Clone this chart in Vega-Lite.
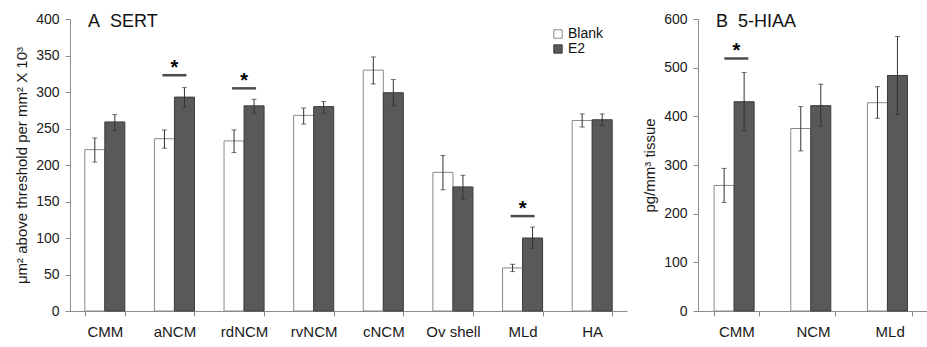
{
  "$schema": "https://vega.github.io/schema/vega-lite/v6.json",
  "padding": {"left": 14, "top": 12, "right": 0, "bottom": 0},
  "background": "#ffffff",
  "datasets": {
    "sert": [
      {"region": "CMM", "group": "Blank", "value": 221, "lo": 204, "hi": 237},
      {"region": "CMM", "group": "E2", "value": 259, "lo": 247, "hi": 269},
      {"region": "aNCM", "group": "Blank", "value": 236, "lo": 223, "hi": 248},
      {"region": "aNCM", "group": "E2", "value": 293, "lo": 279, "hi": 306},
      {"region": "rdNCM", "group": "Blank", "value": 233, "lo": 217, "hi": 248},
      {"region": "rdNCM", "group": "E2", "value": 281, "lo": 271, "hi": 290},
      {"region": "rvNCM", "group": "Blank", "value": 268, "lo": 256, "hi": 278},
      {"region": "rvNCM", "group": "E2", "value": 280, "lo": 271, "hi": 287},
      {"region": "cNCM", "group": "Blank", "value": 330, "lo": 311, "hi": 348},
      {"region": "cNCM", "group": "E2", "value": 299, "lo": 281, "hi": 317},
      {"region": "Ov shell", "group": "Blank", "value": 190, "lo": 166, "hi": 213},
      {"region": "Ov shell", "group": "E2", "value": 170, "lo": 153, "hi": 186},
      {"region": "MLd", "group": "Blank", "value": 59, "lo": 54, "hi": 64},
      {"region": "MLd", "group": "E2", "value": 100, "lo": 86, "hi": 115},
      {"region": "HA", "group": "Blank", "value": 261, "lo": 252, "hi": 270},
      {"region": "HA", "group": "E2", "value": 262, "lo": 254, "hi": 270}
    ],
    "sertsig": [
      {"region": "aNCM", "line": 323, "star": "*"},
      {"region": "rdNCM", "line": 305, "star": "*"},
      {"region": "MLd", "line": 130, "star": "*"}
    ],
    "hiaa": [
      {"region": "CMM", "group": "Blank", "value": 258, "lo": 223, "hi": 293},
      {"region": "CMM", "group": "E2", "value": 430, "lo": 370, "hi": 490},
      {"region": "NCM", "group": "Blank", "value": 375, "lo": 329, "hi": 420},
      {"region": "NCM", "group": "E2", "value": 422, "lo": 380, "hi": 466},
      {"region": "MLd", "group": "Blank", "value": 428, "lo": 396, "hi": 461},
      {"region": "MLd", "group": "E2", "value": 484, "lo": 404, "hi": 564}
    ],
    "hiaasig": [
      {"region": "CMM", "line": 519, "star": "*"}
    ]
  },
  "hconcat": [
    {
      "width": 557,
      "height": 292,
      "title": {"text": "A\u00a0\u00a0SERT", "anchor": "start", "frame": "group", "fontSize": 18, "fontWeight": "normal", "font": "Liberation Sans", "color": "#111111", "offset": -19, "dx": 18},
      "layer": [
        {
          "data": {"name": "sert"},
          "mark": {"type": "bar", "strokeWidth": 1},
          "encoding": {
            "x": {"field": "region", "type": "nominal", "scale": {"domain": ["CMM", "aNCM", "rdNCM", "rvNCM", "cNCM", "Ov shell", "MLd", "HA"], "paddingInner": 0.425, "paddingOuter": 0.2125}, "axis": {"title": null, "labelAngle": 0, "tickBand": "extent", "tickSize": 5, "labelPadding": 8, "labelFontSize": 15}},
            "xOffset": {"field": "group", "type": "nominal", "scale": {"domain": ["Blank", "E2"], "paddingInner": 0, "paddingOuter": 0}},
            "y": {"field": "value", "type": "quantitative", "scale": {"domain": [0, 400]}, "axis": {"title": "μm² above threshold per mm² X 10³", "values": [0, 50, 100, 150, 200, 250, 300, 350, 400], "labelOverlap": false}},
            "fill": {"field": "group", "type": "nominal", "scale": {"domain": ["Blank", "E2"], "range": ["#ffffff", "#595959"]}, "legend": {"title": null, "orient": "none", "legendX": 481, "legendY": 8, "symbolType": "square", "symbolSize": 70, "symbolStrokeColor": "#555555", "symbolStrokeWidth": 1, "labelFontSize": 14, "labelColor": "#111111", "rowPadding": 1, "labelOffset": 3, "padding": 0}},
            "stroke": {"field": "group", "type": "nominal", "scale": {"domain": ["Blank", "E2"], "range": ["#8a8a8a", "#3c3c3c"]}, "legend": null}
          }
        },
        {
          "data": {"name": "sert"},
          "mark": {"type": "rule", "color": "#333333", "strokeWidth": 1},
          "encoding": {
            "x": {"field": "region", "type": "nominal"},
            "xOffset": {"field": "group", "type": "nominal"},
            "y": {"field": "lo", "type": "quantitative", "axis": {"title": "μm² above threshold per mm² X 10³", "values": [0, 50, 100, 150, 200, 250, 300, 350, 400], "labelOverlap": false}},
            "y2": {"field": "hi"}
          }
        },
        {
          "data": {"name": "sert"},
          "mark": {"type": "tick", "color": "#333333", "size": 5, "thickness": 1},
          "encoding": {
            "x": {"field": "region", "type": "nominal"},
            "xOffset": {"field": "group", "type": "nominal"},
            "y": {"field": "lo", "type": "quantitative", "axis": {"title": "μm² above threshold per mm² X 10³", "values": [0, 50, 100, 150, 200, 250, 300, 350, 400], "labelOverlap": false}}
          }
        },
        {
          "data": {"name": "sert"},
          "mark": {"type": "tick", "color": "#333333", "size": 5, "thickness": 1},
          "encoding": {
            "x": {"field": "region", "type": "nominal"},
            "xOffset": {"field": "group", "type": "nominal"},
            "y": {"field": "hi", "type": "quantitative", "axis": {"title": "μm² above threshold per mm² X 10³", "values": [0, 50, 100, 150, 200, 250, 300, 350, 400], "labelOverlap": false}}
          }
        },
        {
          "data": {"name": "sertsig"},
          "mark": {"type": "tick", "color": "#000000", "size": 24, "thickness": 2.5},
          "encoding": {
            "x": {"field": "region", "type": "nominal"},
            "y": {"field": "line", "type": "quantitative", "axis": {"title": "μm² above threshold per mm² X 10³", "values": [0, 50, 100, 150, 200, 250, 300, 350, 400], "labelOverlap": false}}
          }
        },
        {
          "data": {"name": "sertsig"},
          "mark": {"type": "text", "fontSize": 20, "fontWeight": "bold", "baseline": "alphabetic", "dy": -1, "color": "#000000"},
          "encoding": {
            "x": {"field": "region", "type": "nominal"},
            "y": {"field": "line", "type": "quantitative", "axis": {"title": "μm² above threshold per mm² X 10³", "values": [0, 50, 100, 150, 200, 250, 300, 350, 400], "labelOverlap": false}},
            "text": {"field": "star"}
          }
        }
      ]
    },
    {
      "width": 230,
      "height": 292,
      "title": {"text": "B\u00a0\u00a05-HIAA", "anchor": "start", "frame": "group", "fontSize": 18, "fontWeight": "normal", "font": "Liberation Sans", "color": "#111111", "offset": -19, "dx": 18},
      "layer": [
        {
          "data": {"name": "hiaa"},
          "mark": {"type": "bar", "strokeWidth": 1},
          "encoding": {
            "x": {"field": "region", "type": "nominal", "scale": {"domain": ["CMM", "NCM", "MLd"], "paddingInner": 0.42, "paddingOuter": 0.21}, "axis": {"title": null, "labelAngle": 0, "tickBand": "extent", "tickSize": 5, "labelPadding": 8, "labelFontSize": 15}},
            "xOffset": {"field": "group", "type": "nominal", "scale": {"domain": ["Blank", "E2"], "paddingInner": 0, "paddingOuter": 0}},
            "y": {"field": "value", "type": "quantitative", "scale": {"domain": [0, 600]}, "axis": {"title": "pg/mm³ tissue", "values": [0, 100, 200, 300, 400, 500, 600]}},
            "fill": {"field": "group", "type": "nominal", "scale": {"domain": ["Blank", "E2"], "range": ["#ffffff", "#595959"]}, "legend": null},
            "stroke": {"field": "group", "type": "nominal", "scale": {"domain": ["Blank", "E2"], "range": ["#8a8a8a", "#3c3c3c"]}, "legend": null}
          }
        },
        {
          "data": {"name": "hiaa"},
          "mark": {"type": "rule", "color": "#333333", "strokeWidth": 1},
          "encoding": {
            "x": {"field": "region", "type": "nominal"},
            "xOffset": {"field": "group", "type": "nominal"},
            "y": {"field": "lo", "type": "quantitative", "axis": {"title": "pg/mm³ tissue", "values": [0, 100, 200, 300, 400, 500, 600]}},
            "y2": {"field": "hi"}
          }
        },
        {
          "data": {"name": "hiaa"},
          "mark": {"type": "tick", "color": "#333333", "size": 5, "thickness": 1},
          "encoding": {
            "x": {"field": "region", "type": "nominal"},
            "xOffset": {"field": "group", "type": "nominal"},
            "y": {"field": "lo", "type": "quantitative", "axis": {"title": "pg/mm³ tissue", "values": [0, 100, 200, 300, 400, 500, 600]}}
          }
        },
        {
          "data": {"name": "hiaa"},
          "mark": {"type": "tick", "color": "#333333", "size": 5, "thickness": 1},
          "encoding": {
            "x": {"field": "region", "type": "nominal"},
            "xOffset": {"field": "group", "type": "nominal"},
            "y": {"field": "hi", "type": "quantitative", "axis": {"title": "pg/mm³ tissue", "values": [0, 100, 200, 300, 400, 500, 600]}}
          }
        },
        {
          "data": {"name": "hiaasig"},
          "mark": {"type": "tick", "color": "#000000", "size": 24, "thickness": 2.5},
          "encoding": {
            "x": {"field": "region", "type": "nominal"},
            "y": {"field": "line", "type": "quantitative", "axis": {"title": "pg/mm³ tissue", "values": [0, 100, 200, 300, 400, 500, 600]}}
          }
        },
        {
          "data": {"name": "hiaasig"},
          "mark": {"type": "text", "fontSize": 20, "fontWeight": "bold", "baseline": "alphabetic", "dy": -1, "color": "#000000"},
          "encoding": {
            "x": {"field": "region", "type": "nominal"},
            "y": {"field": "line", "type": "quantitative", "axis": {"title": "pg/mm³ tissue", "values": [0, 100, 200, 300, 400, 500, 600]}},
            "text": {"field": "star"}
          }
        }
      ]
    }
  ],
  "spacing": 15,
  "resolve": {"legend": {"fill": "independent", "stroke": "independent"}},
  "config": {
    "font": "Liberation Sans",
    "view": {"stroke": null},
    "axis": {"grid": false, "domainColor": "#8c8c8c", "tickColor": "#8c8c8c", "labelColor": "#1a1a1a", "labelFontSize": 14, "labelFont": "Liberation Sans", "titleFont": "Liberation Sans", "titleFontSize": 15, "titleFontWeight": "normal", "titleColor": "#1a1a1a"},
    "axisY": {"tickSize": 5, "labelPadding": 6, "titlePadding": 6},
    "legend": {"labelFont": "Liberation Sans"}
  }
}
